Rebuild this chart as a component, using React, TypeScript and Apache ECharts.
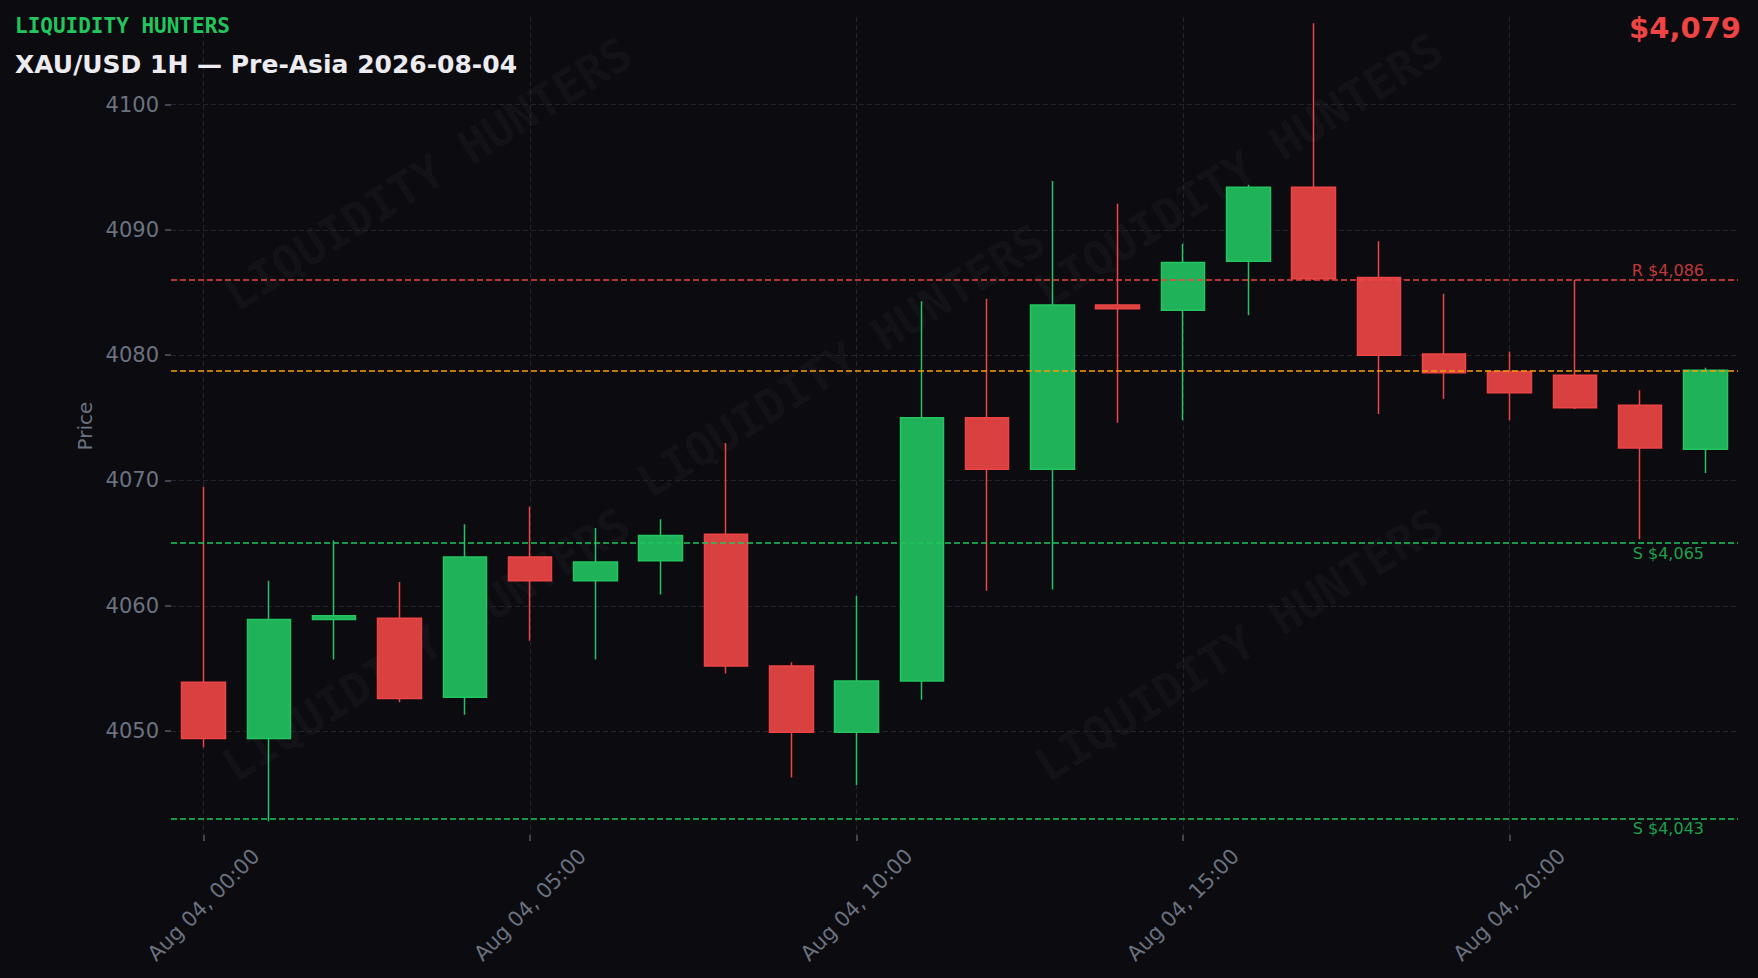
import React, { useEffect, useRef } from "react";
import * as echarts from "echarts";

const hours = [
  "00:00", "01:00", "02:00", "03:00", "04:00", "05:00", "06:00", "07:00",
  "08:00", "09:00", "10:00", "11:00", "12:00", "13:00", "14:00", "15:00",
  "16:00", "17:00", "18:00", "19:00", "20:00", "21:00", "22:00", "23:00",
];
const categories = hours.map((h) => "Aug 04, " + h);

const opens = [
  4053.9, 4049.4, 4058.9, 4059.0, 4052.7, 4063.9, 4062.0, 4063.6,
  4065.7, 4055.2, 4049.9, 4054.0, 4075.0, 4070.9, 4084.0, 4083.6,
  4087.5, 4093.4, 4086.2, 4080.1, 4078.7, 4078.4, 4076.0, 4072.5,
];
const closes = [
  4049.4, 4058.9, 4059.2, 4052.6, 4063.9, 4062.0, 4063.5, 4065.6,
  4055.2, 4049.9, 4054.0, 4075.0, 4070.9, 4084.0, 4083.7, 4087.4,
  4093.4, 4086.1, 4080.0, 4078.6, 4077.0, 4075.8, 4072.6, 4078.8,
];
const lows = [
  4048.7, 4042.8, 4055.7, 4052.3, 4051.3, 4057.2, 4055.7, 4060.9,
  4054.6, 4046.3, 4045.7, 4052.5, 4061.2, 4061.3, 4074.6, 4074.8,
  4083.2, 4086.0, 4075.3, 4076.5, 4074.8, 4075.7, 4065.3, 4070.6,
];
const highs = [
  4069.5, 4062.0, 4065.2, 4061.9, 4066.5, 4067.9, 4066.2, 4066.9,
  4073.0, 4055.5, 4060.8, 4084.3, 4084.5, 4093.9, 4092.1, 4088.9,
  4093.6, 4106.5, 4089.1, 4084.9, 4080.3, 4086.0, 4077.2, 4079.0,
];

const yTicks = [4050, 4060, 4070, 4080, 4090, 4100];
const resistance = 4086;
const supports = [4065, 4043];
const lastPrice = 4078.8;

const titleBrand = "LIQUIDITY HUNTERS";
const titleMain = "XAU/USD 1H — Pre-Asia 2026-08-04";
const priceText = "$4,079";

const BG = "#0b0b10";
const UP = "#22c55e";
const UP_FILL = "#1fb259";
const DOWN = "#ef4444";
const DOWN_FILL = "#d94141";
const GRID = "#23232c";
const AXIS_TXT = "#6b7280";

const watermarkPos = [
  [428, 174],
  [841, 361],
  [1239, 170],
  [426, 645],
  [1239, 645],
];

export default function App() {
  const ref = useRef<HTMLDivElement>(null);

  useEffect(() => {
    if (!ref.current) return;
    const chart = echarts.init(ref.current, null, { renderer: "svg" });

    const candleData = opens.map((o, i) => [o, closes[i], lows[i], highs[i]]);

    const lvlLabel = (text: string, color: string, pos: string, dy: number) => ({
      show: true,
      formatter: text,
      position: pos,
      color,
      fontSize: 16,
      fontFamily: "DejaVu Sans",
      distance: [34, dy],
    });

    const markData: any[] = [
      {
        yAxis: resistance,
        lineStyle: { color: DOWN, type: [6, 3], width: 1.5 },
        label: lvlLabel("R $4,086", "#c13839", "insideEndTop", 2),
      },
      {
        yAxis: lastPrice,
        lineStyle: { color: "#f59e0b", type: [6, 3], width: 1.5 },
        label: { show: false },
      },
      ...supports.map((s) => ({
        yAxis: s,
        lineStyle: { color: UP, type: [6, 3], width: 1.5 },
        label: lvlLabel(
          "S $" + s.toLocaleString("en-US"),
          "#1da04d",
          "insideEndBottom",
          2
        ),
      })),
    ];

    const graphics: any[] = [
      ...watermarkPos.map(([x, y]) => ({
        type: "text",
        x,
        y,
        rotation: 0.56,
        z: 0,
        silent: true,
        style: {
          text: titleBrand,
          fill: "rgba(255,255,255,0.045)",
          font: "bold 46px 'DejaVu Sans Mono'",
          align: "center",
          verticalAlign: "middle",
        },
      })),
      {
        type: "text",
        left: 15,
        top: 15,
        z: 10,
        style: {
          text: titleBrand,
          fill: "#22c55e",
          font: "bold 21px 'DejaVu Sans Mono'",
        },
      },
      {
        type: "text",
        left: 15,
        top: 52,
        z: 10,
        style: {
          text: titleMain,
          fill: "#ececf0",
          font: "bold 25px 'DejaVu Sans'",
        },
      },
      {
        type: "text",
        right: 17,
        top: 13,
        z: 10,
        style: {
          text: priceText,
          fill: "#ef4444",
          font: "bold 29px 'DejaVu Sans'",
        },
      },
    ];

    chart.setOption({
      animation: false,
      backgroundColor: BG,
      textStyle: { fontFamily: "DejaVu Sans" },
      grid: { left: 171, right: 20, top: 17, bottom: 143 },
      graphic: graphics,
      xAxis: {
        type: "category",
        data: categories,
        boundaryGap: true,
        axisLine: { show: false },
        axisTick: {
          show: true,
          alignWithLabel: true,
          interval: 4,
          length: 6,
          lineStyle: { color: "#555a66", width: 1.5 },
        },
        axisLabel: {
          interval: 4,
          rotate: 45,
          margin: 70,
          align: "center",
          verticalAlign: "middle",
          color: AXIS_TXT,
          fontSize: 21,
          fontFamily: "DejaVu Sans",
        },
        splitLine: {
          show: true,
          interval: 4,
          alignWithLabel: true,
          lineStyle: { color: GRID, type: [5, 3], width: 1.2 },
        },
      },
      yAxis: {
        type: "value",
        min: 4041.7,
        max: 4107,
        scale: true,
        name: "Price",
        nameLocation: "middle",
        nameGap: 75,
        nameTextStyle: { color: AXIS_TXT, fontSize: 20, fontFamily: "DejaVu Sans" },
        axisLine: { show: false },
        axisTick: {
          show: true,
          length: 6,
          customValues: yTicks,
          lineStyle: { color: "#555a66", width: 1.5 },
        },
        axisLabel: {
          color: AXIS_TXT,
          fontSize: 21,
          margin: 12,
          customValues: yTicks,
          formatter: (v: number) => String(v),
          fontFamily: "DejaVu Sans",
        },
        splitLine: {
          show: true,
          lineStyle: { color: GRID, type: [5, 3], width: 1.2 },
        },
      },
      series: [
        {
          type: "candlestick",
          data: candleData,
          barWidth: 44,
          z: 3,
          itemStyle: {
            color: UP_FILL,
            color0: DOWN_FILL,
            borderColor: UP,
            borderColor0: DOWN,
            borderWidth: 1.5,
          },
          markLine: {
            silent: true,
            symbol: "none",
            z: 4,
            data: markData,
          },
        },
      ],
    });

    return () => chart.dispose();
  }, []);

  return (
    <div
      ref={ref}
      style={{ position: "absolute", left: 0, top: 0, width: 1758, height: 978 }}
    />
  );
}
